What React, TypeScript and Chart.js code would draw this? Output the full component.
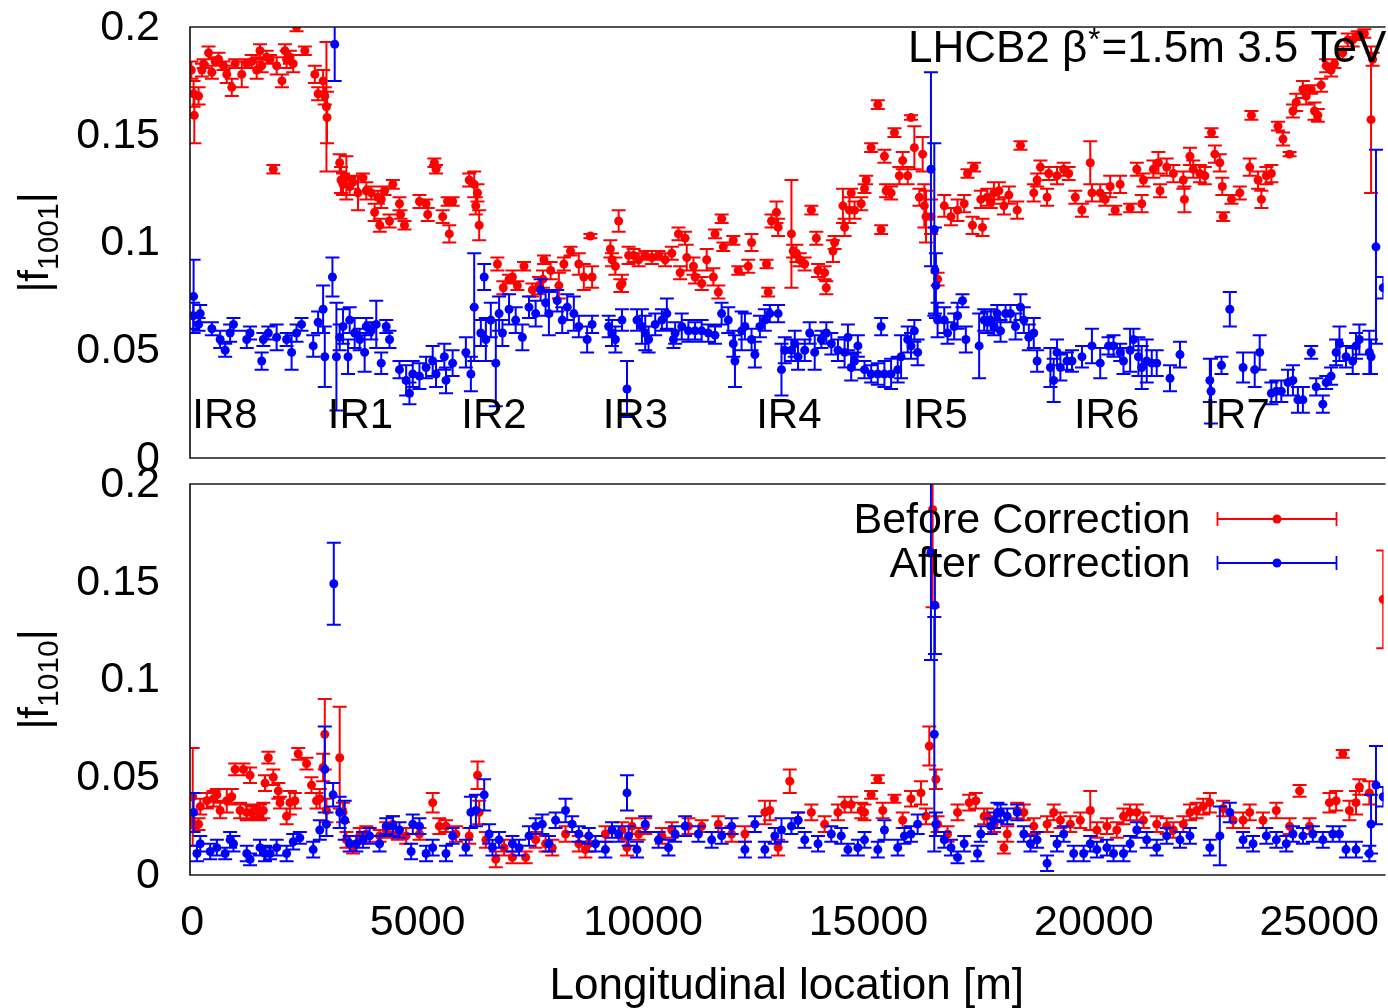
import React, { useEffect, useRef } from "react";
import { Chart, registerables } from "chart.js";

Chart.register(...registerables);

type Pt = [number, number, number]; // [s (m), |f|, error]

const FONT = '"Liberation Sans", Arial, Helvetica, sans-serif';
const RED = "#ff0000";
const BLUE = "#0000ff";

const sMin = -50;
const sMax = 26426;
const xTicks = [0, 5000, 10000, 15000, 20000, 25000];
const yTicks = [0, 0.05, 0.1, 0.15, 0.2];
const yTickLabels = ["0", "0.05", "0.1", "0.15", "0.2"];
const xTitle = "Longitudinal location [m]";
const seriesNames = ["Before Correction", "After Correction"];
const irNames = ["IR8", "IR1", "IR2", "IR3", "IR4", "IR5", "IR6", "IR7"];
const irS = [0, 3006, 5967, 9105, 12509, 15757, 19559, 22454];
const irLabelValue = 0.0139;
const titleParts = ["LHCB2 β", "*", "=1.5m 3.5 TeV"];

const f1001Before: Pt[] = [
  [-20, 0.180, 0.004], [30, 0.169, 0.006], [45, 0.159, 0.013], [140, 0.168, 0.004], [214, 0.180, 0.003],
  [251, 0.183, 0.002], [361, 0.188, 0.003], [435, 0.179, 0.003], [509, 0.184, 0.002], [582, 0.185, 0.003],
  [693, 0.182, 0.002], [766, 0.178, 0.004], [877, 0.172, 0.004], [951, 0.183, 0.002], [1098, 0.178, 0.006],
  [1209, 0.183, 0.002], [1319, 0.184, 0.003], [1429, 0.180, 0.004], [1503, 0.189, 0.003], [1540, 0.182, 0.003],
  [1650, 0.186, 0.003], [1725, 0.185, 0.002], [1798, 0.134, 0.002], [1872, 0.182, 0.004], [1990, 0.175, 0.003],
  [2056, 0.189, 0.003], [2093, 0.185, 0.004], [2166, 0.186, 0.003], [2240, 0.183, 0.004], [2314, 0.200, 0.002],
  [2498, 0.189, 0.002], [2719, 0.178, 0.004], [2792, 0.169, 0.003], [2903, 0.175, 0.005], [2940, 0.168, 0.004],
  [2977, 0.163, 0.030], [2990, 0.158, 0.012],
  [3271, 0.137, 0.004], [3300, 0.129, 0.006], [3345, 0.127, 0.005], [3419, 0.130, 0.010], [3492, 0.126, 0.004],
  [3566, 0.128, 0.003], [3677, 0.123, 0.008], [3787, 0.130, 0.002], [3861, 0.124, 0.004], [3971, 0.123, 0.003],
  [4045, 0.114, 0.004], [4118, 0.121, 0.003], [4160, 0.108, 0.003], [4192, 0.120, 0.004], [4266, 0.124, 0.002],
  [4376, 0.110, 0.003], [4450, 0.127, 0.002], [4597, 0.118, 0.003], [4620, 0.113, 0.002], [4708, 0.108, 0.002],
  [5040, 0.119, 0.003], [5187, 0.118, 0.002], [5224, 0.113, 0.003], [5371, 0.137, 0.002], [5408, 0.134, 0.002],
  [5555, 0.112, 0.003], [5665, 0.119, 0.002], [5702, 0.104, 0.004], [5776, 0.119, 0.002], [6144, 0.129, 0.003],
  [6255, 0.127, 0.006], [6290, 0.117, 0.004], [6328, 0.123, 0.004], [6365, 0.108, 0.007],
  [6770, 0.090, 0.003], [6900, 0.079, 0.003], [7028, 0.083, 0.002], [7102, 0.084, 0.003], [7212, 0.080, 0.002],
  [7360, 0.089, 0.002], [7544, 0.078, 0.003], [7691, 0.080, 0.004], [7780, 0.083, 0.004], [7802, 0.092, 0.002],
  [7950, 0.087, 0.004], [8133, 0.080, 0.006], [8244, 0.090, 0.003], [8391, 0.096, 0.002], [8575, 0.090, 0.005],
  [8686, 0.084, 0.006], [8833, 0.103, 0.001], [8870, 0.084, 0.005],
  [9275, 0.097, 0.004], [9312, 0.092, 0.003], [9386, 0.089, 0.004], [9459, 0.110, 0.005], [9496, 0.080, 0.003],
  [9533, 0.081, 0.004], [9680, 0.094, 0.004], [9791, 0.094, 0.003], [9902, 0.092, 0.003], [10049, 0.094, 0.002],
  [10196, 0.093, 0.003], [10344, 0.094, 0.002], [10491, 0.092, 0.003], [10638, 0.095, 0.003], [10786, 0.104, 0.003],
  [10823, 0.086, 0.003], [10933, 0.102, 0.003], [10970, 0.093, 0.006], [11118, 0.089, 0.004], [11155, 0.084, 0.003],
  [11302, 0.081, 0.003], [11412, 0.092, 0.005], [11560, 0.084, 0.004], [11597, 0.104, 0.002], [11670, 0.077, 0.003],
  [11744, 0.111, 0.002], [11781, 0.098, 0.002], [12002, 0.101, 0.002], [12113, 0.087, 0.002], [12334, 0.089, 0.003],
  [12407, 0.100, 0.004], [12739, 0.090, 0.002], [12776, 0.077, 0.002], [12850, 0.110, 0.003], [12960, 0.114, 0.005],
  [12997, 0.107, 0.004], [13292, 0.104, 0.025], [13329, 0.096, 0.003], [13402, 0.095, 0.004], [13476, 0.092, 0.003],
  [13586, 0.090, 0.003], [13734, 0.115, 0.002], [13844, 0.102, 0.003], [13881, 0.087, 0.003], [14028, 0.086, 0.003],
  [14065, 0.079, 0.003], [14213, 0.096, 0.005], [14250, 0.100, 0.003], [14434, 0.117, 0.008], [14471, 0.107, 0.004],
  [14580, 0.115, 0.006], [14618, 0.123, 0.002], [14692, 0.115, 0.004], [14840, 0.118, 0.003], [14913, 0.125, 0.002],
  [14950, 0.129, 0.002], [15060, 0.144, 0.002], [15208, 0.164, 0.002], [15282, 0.106, 0.002], [15355, 0.140, 0.003],
  [15392, 0.124, 0.003], [15503, 0.123, 0.003], [15577, 0.151, 0.002], [15686, 0.131, 0.004], [15760, 0.138, 0.004],
  [15871, 0.131, 0.004], [15945, 0.158, 0.001], [16019, 0.144, 0.010], [16130, 0.121, 0.004], [16203, 0.141, 0.008],
  [16240, 0.117, 0.010], [16277, 0.112, 0.012], [16388, 0.112, 0.008], [16535, 0.083, 0.003], [16682, 0.117, 0.005],
  [16830, 0.112, 0.004], [16977, 0.115, 0.005], [17124, 0.118, 0.004], [17198, 0.132, 0.002], [17308, 0.108, 0.004],
  [17345, 0.135, 0.002], [17493, 0.120, 0.004], [17530, 0.107, 0.004], [17636, 0.121, 0.004], [17714, 0.119, 0.003],
  [17784, 0.123, 0.005], [17894, 0.124, 0.004], [18005, 0.117, 0.004], [18115, 0.122, 0.004], [18300, 0.115, 0.004],
  [18373, 0.145, 0.002], [18668, 0.123, 0.004], [18742, 0.129, 0.003], [18816, 0.135, 0.003], [18963, 0.121, 0.004],
  [19000, 0.132, 0.003], [19184, 0.131, 0.004], [19332, 0.134, 0.003], [19442, 0.132, 0.003], [19589, 0.121, 0.003],
  [19736, 0.115, 0.003], [19921, 0.137, 0.010], [19958, 0.123, 0.004], [20142, 0.123, 0.004], [20253, 0.120, 0.003],
  [20363, 0.126, 0.005], [20474, 0.115, 0.002], [20584, 0.127, 0.004], [20805, 0.116, 0.002], [20953, 0.134, 0.003],
  [21063, 0.118, 0.004], [21100, 0.129, 0.003], [21321, 0.134, 0.004], [21432, 0.137, 0.005], [21469, 0.124, 0.003],
  [21616, 0.135, 0.004], [21764, 0.132, 0.004], [21985, 0.129, 0.004], [22010, 0.120, 0.006], [22132, 0.140, 0.004],
  [22206, 0.134, 0.004], [22353, 0.132, 0.004], [22464, 0.131, 0.004], [22611, 0.151, 0.002], [22685, 0.141, 0.004],
  [22795, 0.137, 0.004], [22850, 0.126, 0.004], [22869, 0.112, 0.002], [23053, 0.120, 0.002], [23238, 0.123, 0.003],
  [23459, 0.135, 0.004], [23496, 0.159, 0.002], [23643, 0.129, 0.004], [23717, 0.120, 0.004], [23827, 0.131, 0.004],
  [23938, 0.132, 0.004], [24085, 0.154, 0.002], [24196, 0.148, 0.003], [24343, 0.141, 0.001], [24417, 0.161, 0.003],
  [24490, 0.165, 0.004], [24638, 0.171, 0.004], [24712, 0.168, 0.004], [24822, 0.171, 0.002], [24896, 0.161, 0.004],
  [24969, 0.159, 0.003], [25043, 0.173, 0.003], [25154, 0.182, 0.003], [25264, 0.180, 0.003], [25338, 0.183, 0.002],
  [25522, 0.188, 0.003], [25633, 0.194, 0.003], [25743, 0.194, 0.003], [25854, 0.196, 0.002], [26001, 0.197, 0.002],
  [26150, 0.157, 0.034], [26185, 0.185, 0.003],
];

const f1001After: Pt[] = [
  [20, 0.066, 0.006], [30, 0.075, 0.017], [140, 0.062, 0.003], [177, 0.067, 0.004], [435, 0.060, 0.003],
  [619, 0.055, 0.004], [730, 0.050, 0.003], [840, 0.058, 0.004], [914, 0.062, 0.003], [1209, 0.055, 0.004],
  [1282, 0.058, 0.003], [1540, 0.045, 0.004], [1577, 0.055, 0.003], [1688, 0.058, 0.003], [1872, 0.056, 0.006],
  [2093, 0.055, 0.003], [2204, 0.049, 0.008], [2314, 0.058, 0.004], [2424, 0.062, 0.003], [2683, 0.052, 0.005],
  [2792, 0.063, 0.005], [2903, 0.069, 0.011], [2940, 0.047, 0.014], [3110, 0.084, 0.009], [3160, 0.192, 0.017],
  [3198, 0.047, 0.025], [3271, 0.056, 0.006], [3345, 0.061, 0.008], [3456, 0.047, 0.008], [3492, 0.064, 0.006],
  [3603, 0.058, 0.007], [3714, 0.055, 0.005], [3824, 0.049, 0.009], [3861, 0.061, 0.004], [3971, 0.059, 0.004],
  [4082, 0.062, 0.011], [4192, 0.044, 0.005], [4303, 0.061, 0.003], [4376, 0.055, 0.004], [4597, 0.041, 0.004],
  [4745, 0.036, 0.007], [4818, 0.030, 0.005], [4892, 0.039, 0.006], [5040, 0.038, 0.006], [5187, 0.042, 0.005],
  [5334, 0.045, 0.007], [5408, 0.039, 0.006], [5592, 0.047, 0.006], [5629, 0.036, 0.006], [5776, 0.044, 0.006],
  [6070, 0.049, 0.007], [6181, 0.039, 0.008], [6255, 0.070, 0.025], [6402, 0.058, 0.006], [6476, 0.084, 0.006],
  [6513, 0.055, 0.010], [6623, 0.064, 0.008], [6734, 0.044, 0.020], [6807, 0.067, 0.008], [6881, 0.058, 0.006],
  [7028, 0.069, 0.007], [7175, 0.064, 0.006], [7323, 0.056, 0.006], [7470, 0.070, 0.005], [7618, 0.067, 0.006],
  [7728, 0.078, 0.005], [7839, 0.072, 0.006], [7912, 0.067, 0.010], [8096, 0.073, 0.005], [8207, 0.064, 0.006],
  [8318, 0.070, 0.006], [8465, 0.067, 0.008], [8575, 0.061, 0.005], [8760, 0.055, 0.006], [8870, 0.062, 0.004],
  [9238, 0.061, 0.005], [9312, 0.058, 0.006], [9386, 0.055, 0.006], [9533, 0.064, 0.005], [9644, 0.032, 0.013],
  [9865, 0.064, 0.005], [9975, 0.061, 0.008], [10049, 0.058, 0.008], [10123, 0.055, 0.006], [10270, 0.062, 0.005],
  [10418, 0.064, 0.005], [10528, 0.067, 0.007], [10675, 0.055, 0.004], [10712, 0.058, 0.005], [10859, 0.061, 0.006],
  [11006, 0.059, 0.005], [11154, 0.059, 0.004], [11301, 0.059, 0.005], [11448, 0.058, 0.004], [11596, 0.057, 0.004],
  [11743, 0.067, 0.005], [11891, 0.064, 0.006], [12002, 0.053, 0.006], [12039, 0.045, 0.012], [12186, 0.059, 0.009],
  [12260, 0.061, 0.006], [12407, 0.055, 0.005], [12481, 0.048, 0.006], [12592, 0.061, 0.005], [12702, 0.064, 0.005],
  [12813, 0.067, 0.004], [12997, 0.067, 0.004], [13071, 0.041, 0.012], [13144, 0.050, 0.006], [13292, 0.050, 0.005],
  [13366, 0.053, 0.006], [13439, 0.047, 0.006], [13587, 0.050, 0.005], [13697, 0.058, 0.005], [13808, 0.049, 0.008],
  [13955, 0.055, 0.004], [14066, 0.058, 0.005], [14177, 0.053, 0.005], [14324, 0.050, 0.005], [14471, 0.049, 0.007],
  [14545, 0.056, 0.006], [14618, 0.042, 0.006], [14692, 0.045, 0.004], [14766, 0.052, 0.005], [14913, 0.041, 0.004],
  [15061, 0.039, 0.004], [15208, 0.039, 0.005], [15282, 0.061, 0.004], [15355, 0.039, 0.006], [15503, 0.039, 0.007],
  [15650, 0.041, 0.006], [15724, 0.047, 0.010], [15871, 0.055, 0.006], [15945, 0.052, 0.006], [16019, 0.059, 0.005],
  [16092, 0.049, 0.006], [16387, 0.134, 0.045], [16461, 0.106, 0.040], [16475, 0.087, 0.020], [16497, 0.080, 0.015],
  [16534, 0.064, 0.008], [16682, 0.064, 0.006], [16755, 0.058, 0.005], [16903, 0.061, 0.006], [16977, 0.066, 0.006],
  [17087, 0.073, 0.003], [17161, 0.055, 0.006], [17456, 0.052, 0.015], [17567, 0.064, 0.005], [17636, 0.063, 0.005],
  [17714, 0.064, 0.005], [17788, 0.061, 0.004], [17857, 0.067, 0.004], [17931, 0.059, 0.005], [18042, 0.067, 0.004],
  [18152, 0.067, 0.004], [18263, 0.061, 0.006], [18373, 0.070, 0.006], [18447, 0.064, 0.006], [18558, 0.056, 0.006],
  [18668, 0.058, 0.007], [18742, 0.045, 0.005], [19037, 0.042, 0.009], [19110, 0.036, 0.010], [19184, 0.049, 0.006],
  [19258, 0.042, 0.006], [19405, 0.045, 0.004], [19516, 0.045, 0.005], [19737, 0.047, 0.005], [19958, 0.052, 0.008],
  [20142, 0.044, 0.007], [20326, 0.052, 0.004], [20437, 0.052, 0.005], [20584, 0.049, 0.004], [20658, 0.045, 0.006],
  [20805, 0.050, 0.010], [20879, 0.055, 0.005], [20990, 0.047, 0.009], [21063, 0.042, 0.010], [21174, 0.045, 0.010],
  [21285, 0.044, 0.006], [21395, 0.044, 0.006], [21690, 0.037, 0.006], [21911, 0.048, 0.006], [22574, 0.036, 0.010],
  [22600, 0.031, 0.015], [22832, 0.043, 0.004], [23017, 0.069, 0.008], [23311, 0.042, 0.007], [23569, 0.041, 0.008],
  [23680, 0.049, 0.008], [23938, 0.030, 0.005], [24048, 0.031, 0.005], [24159, 0.031, 0.005], [24306, 0.035, 0.006],
  [24417, 0.036, 0.007], [24527, 0.027, 0.006], [24638, 0.027, 0.006], [24822, 0.049, 0.003], [24933, 0.033, 0.004],
  [25080, 0.025, 0.004], [25154, 0.035, 0.003], [25264, 0.038, 0.004], [25375, 0.049, 0.006], [25449, 0.053, 0.008],
  [25595, 0.047, 0.005], [25743, 0.045, 0.006], [25817, 0.052, 0.006], [25891, 0.055, 0.007], [26112, 0.049, 0.010],
  [26150, 0.047, 0.008], [26259, 0.098, 0.045], [26420, 0.079, 0.005],
];

const f1010Before: Pt[] = [
  [-20, 0.028, 0.004], [10, 0.040, 0.025], [140, 0.026, 0.003], [177, 0.035, 0.004], [324, 0.038, 0.004],
  [472, 0.039, 0.004], [546, 0.041, 0.003], [619, 0.033, 0.004], [766, 0.038, 0.006], [877, 0.040, 0.004],
  [951, 0.054, 0.003], [1062, 0.033, 0.004], [1135, 0.054, 0.003], [1209, 0.032, 0.004], [1282, 0.051, 0.004],
  [1319, 0.032, 0.003], [1430, 0.033, 0.003], [1503, 0.032, 0.004], [1577, 0.033, 0.004], [1614, 0.047, 0.004],
  [1688, 0.060, 0.003], [1798, 0.050, 0.004], [1909, 0.043, 0.004], [1946, 0.037, 0.003], [2093, 0.030, 0.004],
  [2166, 0.037, 0.006], [2277, 0.038, 0.004], [2351, 0.062, 0.003], [2535, 0.057, 0.003], [2645, 0.046, 0.004],
  [2756, 0.038, 0.004], [2829, 0.039, 0.005], [2903, 0.055, 0.007], [2940, 0.072, 0.018], [2977, 0.033, 0.006],
  [3271, 0.060, 0.026], [3345, 0.032, 0.005], [3420, 0.018, 0.004], [3566, 0.014, 0.003], [3714, 0.020, 0.004],
  [3861, 0.021, 0.004], [4155, 0.020, 0.003], [4303, 0.023, 0.004], [4450, 0.026, 0.004], [4560, 0.021, 0.003],
  [4745, 0.020, 0.004], [5040, 0.021, 0.003], [5334, 0.037, 0.005], [5481, 0.025, 0.004], [5629, 0.025, 0.003],
  [5850, 0.021, 0.004], [6144, 0.020, 0.004], [6329, 0.051, 0.007], [6365, 0.032, 0.006], [6513, 0.018, 0.004],
  [6734, 0.008, 0.004], [6918, 0.014, 0.004], [7102, 0.009, 0.003], [7396, 0.009, 0.003], [7618, 0.018, 0.004],
  [7839, 0.016, 0.004], [7986, 0.014, 0.004], [8281, 0.021, 0.004], [8575, 0.016, 0.004], [8722, 0.013, 0.004],
  [8796, 0.016, 0.004], [9165, 0.021, 0.004], [9533, 0.023, 0.004], [9644, 0.014, 0.004], [9754, 0.025, 0.004],
  [9902, 0.021, 0.003], [10049, 0.025, 0.004], [10418, 0.020, 0.004], [10638, 0.023, 0.004], [11007, 0.025, 0.004],
  [11302, 0.025, 0.003], [11670, 0.026, 0.004], [11965, 0.021, 0.004], [12260, 0.021, 0.004], [12702, 0.032, 0.006],
  [12813, 0.033, 0.005], [12997, 0.014, 0.004], [13255, 0.048, 0.006], [13439, 0.028, 0.004], [13734, 0.032, 0.004],
  [14028, 0.026, 0.004], [14323, 0.032, 0.004], [14471, 0.036, 0.004], [14618, 0.036, 0.004], [14840, 0.033, 0.004],
  [14913, 0.032, 0.004], [15060, 0.041, 0.002], [15208, 0.049, 0.002], [15318, 0.033, 0.004], [15577, 0.039, 0.002],
  [15760, 0.028, 0.004], [15945, 0.039, 0.004], [16166, 0.042, 0.006], [16277, 0.030, 0.004], [16350, 0.066, 0.010],
  [16424, 0.187, 0.050], [16497, 0.049, 0.005], [16534, 0.026, 0.004], [16756, 0.021, 0.004], [16977, 0.032, 0.004],
  [17235, 0.037, 0.004], [17382, 0.038, 0.004], [17566, 0.030, 0.004], [17636, 0.030, 0.004], [17788, 0.026, 0.004],
  [18005, 0.014, 0.003], [18079, 0.021, 0.004], [18300, 0.033, 0.004], [18447, 0.032, 0.004], [18668, 0.025, 0.004],
  [18963, 0.026, 0.004], [19110, 0.032, 0.004], [19258, 0.028, 0.004], [19479, 0.026, 0.004], [19700, 0.028, 0.004],
  [19921, 0.033, 0.010], [20068, 0.023, 0.004], [20290, 0.025, 0.004], [20510, 0.023, 0.004], [20658, 0.030, 0.004],
  [20805, 0.032, 0.004], [20953, 0.032, 0.004], [21100, 0.028, 0.004], [21395, 0.026, 0.004], [21616, 0.025, 0.004],
  [21764, 0.023, 0.004], [21985, 0.026, 0.004], [22132, 0.032, 0.004], [22280, 0.033, 0.004], [22427, 0.035, 0.004],
  [22574, 0.037, 0.005], [22869, 0.034, 0.004], [23090, 0.028, 0.004], [23311, 0.028, 0.004], [23459, 0.032, 0.004],
  [23753, 0.028, 0.004], [24048, 0.033, 0.004], [24343, 0.025, 0.004], [24564, 0.043, 0.003], [24785, 0.025, 0.004],
  [25227, 0.037, 0.005], [25375, 0.038, 0.005], [25522, 0.062, 0.002], [25670, 0.033, 0.005], [25817, 0.037, 0.006],
  [25891, 0.045, 0.004], [26112, 0.042, 0.006], [26420, 0.141, 0.025],
];

const f1010After: Pt[] = [
  [30, 0.032, 0.010], [104, 0.011, 0.004], [177, 0.016, 0.004], [398, 0.012, 0.004], [546, 0.014, 0.004],
  [730, 0.011, 0.003], [840, 0.018, 0.004], [914, 0.016, 0.004], [1209, 0.011, 0.004], [1282, 0.008, 0.003],
  [1503, 0.014, 0.004], [1614, 0.011, 0.004], [1725, 0.011, 0.003], [1872, 0.014, 0.004], [2093, 0.011, 0.004],
  [2240, 0.017, 0.004], [2387, 0.019, 0.003], [2683, 0.013, 0.004], [2829, 0.023, 0.005], [2940, 0.054, 0.022],
  [2977, 0.026, 0.006], [3125, 0.041, 0.006], [3140, 0.149, 0.021], [3271, 0.032, 0.008], [3382, 0.028, 0.010],
  [3492, 0.016, 0.004], [3640, 0.016, 0.004], [3787, 0.018, 0.004], [3935, 0.020, 0.004], [4155, 0.016, 0.004],
  [4303, 0.025, 0.004], [4450, 0.025, 0.005], [4597, 0.023, 0.004], [4855, 0.012, 0.004], [4892, 0.026, 0.005],
  [5040, 0.025, 0.004], [5187, 0.011, 0.004], [5334, 0.014, 0.004], [5629, 0.011, 0.004], [5776, 0.020, 0.004],
  [6070, 0.014, 0.004], [6181, 0.032, 0.008], [6292, 0.033, 0.008], [6476, 0.041, 0.008], [6586, 0.021, 0.005],
  [6660, 0.014, 0.004], [6807, 0.018, 0.004], [7102, 0.016, 0.004], [7249, 0.014, 0.004], [7470, 0.020, 0.005],
  [7618, 0.025, 0.004], [7765, 0.026, 0.005], [7912, 0.016, 0.004], [8060, 0.028, 0.004], [8281, 0.033, 0.006],
  [8428, 0.026, 0.004], [8575, 0.021, 0.004], [8796, 0.020, 0.004], [8944, 0.016, 0.004], [9165, 0.013, 0.004],
  [9312, 0.023, 0.004], [9459, 0.021, 0.004], [9644, 0.042, 0.009], [9680, 0.020, 0.005], [9865, 0.013, 0.004],
  [10049, 0.026, 0.004], [10344, 0.018, 0.004], [10565, 0.014, 0.004], [10712, 0.021, 0.004], [10933, 0.025, 0.005],
  [11228, 0.021, 0.004], [11523, 0.018, 0.004], [11744, 0.020, 0.004], [11965, 0.025, 0.004], [12260, 0.013, 0.004],
  [12481, 0.026, 0.004], [12702, 0.013, 0.004], [12923, 0.020, 0.004], [13071, 0.023, 0.006], [13292, 0.025, 0.004],
  [13439, 0.028, 0.004], [13587, 0.018, 0.004], [13882, 0.016, 0.004], [14176, 0.021, 0.004], [14397, 0.020, 0.004],
  [14545, 0.013, 0.003], [14766, 0.014, 0.004], [14913, 0.018, 0.004], [15208, 0.013, 0.004], [15355, 0.023, 0.005],
  [15650, 0.014, 0.004], [15798, 0.020, 0.004], [15945, 0.021, 0.004], [16092, 0.026, 0.005], [16387, 0.165, 0.055],
  [16461, 0.072, 0.060], [16475, 0.138, 0.025], [16497, 0.026, 0.006], [16682, 0.018, 0.004], [16830, 0.014, 0.004],
  [16977, 0.009, 0.003], [17124, 0.016, 0.004], [17419, 0.011, 0.004], [17493, 0.021, 0.004], [17714, 0.025, 0.004],
  [17784, 0.028, 0.004], [17862, 0.032, 0.005], [17931, 0.032, 0.004], [18079, 0.030, 0.004], [18300, 0.032, 0.004],
  [18447, 0.021, 0.004], [18594, 0.016, 0.004], [18742, 0.018, 0.004], [18963, 0.006, 0.004], [19184, 0.016, 0.004],
  [19332, 0.021, 0.004], [19553, 0.011, 0.004], [19774, 0.011, 0.004], [19921, 0.016, 0.004], [20068, 0.013, 0.004],
  [20290, 0.014, 0.004], [20437, 0.011, 0.004], [20658, 0.011, 0.004], [20805, 0.016, 0.004], [20953, 0.023, 0.004],
  [21174, 0.018, 0.004], [21395, 0.014, 0.004], [21616, 0.020, 0.004], [21911, 0.018, 0.004], [22132, 0.020, 0.004],
  [22574, 0.014, 0.004], [22795, 0.020, 0.015], [23017, 0.032, 0.005], [23311, 0.018, 0.004], [23532, 0.016, 0.004],
  [23827, 0.020, 0.004], [24048, 0.018, 0.004], [24269, 0.016, 0.004], [24417, 0.021, 0.004], [24638, 0.020, 0.004],
  [24859, 0.021, 0.004], [25080, 0.018, 0.004], [25301, 0.021, 0.004], [25449, 0.021, 0.004], [25595, 0.013, 0.004],
  [25817, 0.013, 0.004], [26112, 0.011, 0.004], [26150, 0.026, 0.015], [26259, 0.046, 0.020], [26420, 0.040, 0.005],
];

const toData = (pts: Pt[]) => pts.map((p) => ({ x: p[0], y: p[1] }));

const errorBars = {
  id: "errorBars",
  beforeDatasetDraw(chart: any, args: any) {
    const ds: any = chart.data.datasets[args.index];
    const pts: Pt[] = ds.pts;
    if (!pts) return;
    const { ctx, chartArea: a, scales } = chart;
    const xs = scales.x;
    const ys = scales.y;
    ctx.save();
    ctx.beginPath();
    ctx.rect(a.left, a.top, a.right - a.left, a.bottom - a.top);
    ctx.clip();
    ctx.strokeStyle = ds.backgroundColor;
    ctx.lineWidth = 2;
    ctx.beginPath();
    for (const [s, v, e] of pts) {
      const x = xs.getPixelForValue(s);
      const y1 = ys.getPixelForValue(v - e);
      const y2 = ys.getPixelForValue(v + e);
      ctx.moveTo(x, y1);
      ctx.lineTo(x, y2);
      ctx.moveTo(x - 7, y1);
      ctx.lineTo(x + 7, y1);
      ctx.moveTo(x - 7, y2);
      ctx.lineTo(x + 7, y2);
    }
    ctx.stroke();
    ctx.restore();
  },
};

function drawYTitle(ctx: CanvasRenderingContext2D, cx: number, cy: number, sub: string) {
  ctx.save();
  ctx.translate(cx, cy);
  ctx.rotate(-Math.PI / 2);
  const big = `42px ${FONT}`;
  const small = `30px ${FONT}`;
  ctx.font = big;
  const wBar = ctx.measureText("|").width;
  const wf = ctx.measureText("f").width;
  ctx.font = small;
  const wSub = ctx.measureText(sub).width;
  const total = wBar * 2 + wf + wSub;
  let x = -total / 2;
  ctx.fillStyle = "#000";
  ctx.textAlign = "left";
  ctx.textBaseline = "alphabetic";
  ctx.font = big;
  ctx.fillText("|f", x, 0);
  x += wBar + wf;
  ctx.font = small;
  ctx.fillText(sub, x, 10);
  x += wSub;
  ctx.font = big;
  ctx.fillText("|", x, 0);
  ctx.restore();
}

function makePanelPlugin(sub: string, isBottom: boolean) {
  return {
    id: "panelText",
    afterDraw(chart: any) {
      const { ctx, chartArea: a, scales } = chart;
      const xs = scales.x;
      const ys = scales.y;
      // frame (right side is cut off by the picture edge)
      ctx.save();
      ctx.strokeStyle = "#1a1a1a";
      ctx.lineWidth = 1.7;
      ctx.beginPath();
      ctx.moveTo(a.right + 2, a.top);
      ctx.lineTo(a.left, a.top);
      ctx.lineTo(a.left, a.bottom);
      ctx.lineTo(a.right + 2, a.bottom);
      ctx.stroke();
      ctx.restore();

      ctx.save();
      ctx.fillStyle = "#000";
      // y tick labels
      ctx.font = `43px ${FONT}`;
      ctx.textAlign = "right";
      ctx.textBaseline = "middle";
      yTicks.forEach((v, i) => {
        ctx.fillText(yTickLabels[i], a.left - 30, ys.getPixelForValue(v) + 1);
      });
      ctx.restore();

      drawYTitle(ctx, 48, (a.top + a.bottom) / 2, sub);

      ctx.save();
      ctx.fillStyle = "#000";
      if (!isBottom) {
        ctx.font = `42px ${FONT}`;
        ctx.textAlign = "left";
        ctx.textBaseline = "alphabetic";
        const yb = ys.getPixelForValue(irLabelValue);
        irNames.forEach((n, i) => {
          ctx.fillText(n, xs.getPixelForValue(irS[i]), yb);
        });
        // title
        let tx = a.left + 718;
        const ty = a.top + 35;
        ctx.font = `44px ${FONT}`;
        ctx.fillText(titleParts[0], tx, ty);
        tx += ctx.measureText(titleParts[0]).width + 1;
        ctx.font = `31px ${FONT}`;
        ctx.fillText(titleParts[1], tx, ty - 12);
        tx += ctx.measureText(titleParts[1]).width + 1;
        ctx.font = `44px ${FONT}`;
        ctx.fillText(titleParts[2], tx, ty);
      } else {
        // x tick labels
        ctx.font = `43px ${FONT}`;
        ctx.textAlign = "center";
        ctx.textBaseline = "alphabetic";
        xTicks.forEach((v) => {
          ctx.fillText(String(v), xs.getPixelForValue(v), a.bottom + 60);
        });
        // x title
        ctx.font = `44px ${FONT}`;
        ctx.fillText(xTitle, (a.left + a.right) / 2, a.bottom + 124);
        // legend
        const rows = [
          { label: seriesNames[0], color: RED, y: a.top + 35 },
          { label: seriesNames[1], color: BLUE, y: a.top + 79 },
        ];
        for (const r of rows) {
          ctx.font = `43px ${FONT}`;
          ctx.textAlign = "right";
          ctx.textBaseline = "middle";
          ctx.fillStyle = "#000";
          ctx.fillText(r.label, a.right - 193, r.y + 2);
          const x1 = a.right - 166;
          const x2 = a.right - 47;
          ctx.strokeStyle = r.color;
          ctx.lineWidth = 1.8;
          ctx.beginPath();
          ctx.moveTo(x1, r.y);
          ctx.lineTo(x2, r.y);
          ctx.moveTo(x1, r.y - 7);
          ctx.lineTo(x1, r.y + 7);
          ctx.moveTo(x2, r.y - 7);
          ctx.lineTo(x2, r.y + 7);
          ctx.stroke();
          ctx.fillStyle = r.color;
          ctx.beginPath();
          ctx.arc((x1 + x2) / 2, r.y, 4.5, 0, Math.PI * 2);
          ctx.fill();
        }
      }
      ctx.restore();
    },
  };
}

function makeConfig(before: Pt[], after: Pt[], isBottom: boolean): any {
  return {
    type: "scatter",
    data: {
      datasets: [
        {
          label: seriesNames[0],
          data: toData(before),
          pts: before,
          backgroundColor: RED,
          borderColor: RED,
          pointRadius: 4.5,
          pointBorderWidth: 0,
          pointHoverRadius: 4.5,
          order: 2,
        },
        {
          label: seriesNames[1],
          data: toData(after),
          pts: after,
          backgroundColor: BLUE,
          borderColor: BLUE,
          pointRadius: 4.5,
          pointBorderWidth: 0,
          pointHoverRadius: 4.5,
          order: 1,
        },
      ],
    },
    options: {
      responsive: false,
      animation: false,
      devicePixelRatio: 1,
      events: [],
      layout: {
        padding: isBottom
          ? { top: 484, bottom: 133, left: 190, right: 0 }
          : { top: 27, bottom: 550, left: 190, right: 0 },
      },
      plugins: { legend: { display: false }, tooltip: { enabled: false } },
      scales: {
        x: {
          type: "linear",
          min: sMin,
          max: sMax,
          display: false,
          afterBuildTicks: (s: any) => {
            s.ticks = xTicks.map((v) => ({ value: v }));
          },
        },
        y: {
          type: "linear",
          min: 0,
          max: 0.2,
          display: false,
          afterBuildTicks: (s: any) => {
            s.ticks = yTicks.map((v) => ({ value: v }));
          },
        },
      },
    },
    plugins: [errorBars],
  };
}

export default function App() {
  const topRef = useRef<HTMLCanvasElement>(null);
  const botRef = useRef<HTMLCanvasElement>(null);

  useEffect(() => {
    const cTop = makeConfig(f1001Before, f1001After, false);
    cTop.plugins.push(makePanelPlugin("1001", false));
    const cBot = makeConfig(f1010Before, f1010After, true);
    cBot.plugins.push(makePanelPlugin("1010", true));
    const top = new Chart(topRef.current as HTMLCanvasElement, cTop);
    const bot = new Chart(botRef.current as HTMLCanvasElement, cBot);
    return () => {
      top.destroy();
      bot.destroy();
    };
  }, []);

  const cStyle: React.CSSProperties = { position: "absolute", left: 0, top: 0, width: 1388, height: 1008 };
  return (
    <div style={{ position: "absolute", left: 0, top: 0, width: 1388, height: 1008, background: "#fff", overflow: "hidden" }}>
      <canvas ref={topRef} width={1388} height={1008} style={cStyle} />
      <canvas ref={botRef} width={1388} height={1008} style={cStyle} />
    </div>
  );
}
